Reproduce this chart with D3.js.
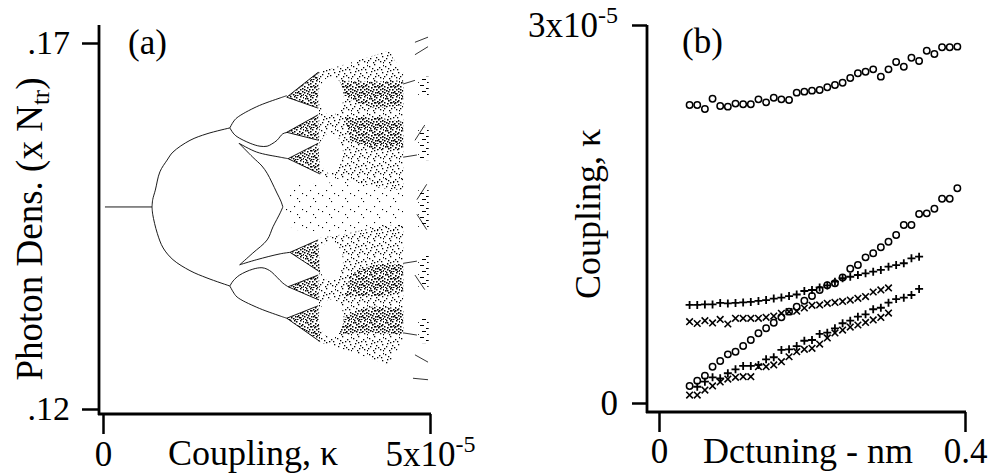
<!DOCTYPE html>
<html>
<head>
<meta charset="utf-8">
<script src="https://cdnjs.cloudflare.com/ajax/libs/d3/7.8.5/d3.min.js"></script>
<style>
  body { margin: 0; background: #fff; }
  svg text { font-family: "Liberation Serif", "Times New Roman", serif; fill: #000; }
</style>
</head>
<body>
<svg id="chart" width="993" height="474"></svg>
<script>
// ---------- panel (a): bifurcation diagram, kappa in units of 1e-5 ----------
var couplingTicksA = [0, 5];
var photonTicks = [0.12, 0.17];

// clean period-doubling branches [kappa, photon density]
var branchMain   = [[0.03,.1476],[0.75,.1476]];
var branchPfUp   = [[0.75,.1476],[0.76,.1486],[0.80,.1499],[0.87,.1524],[0.98,.1540],[1.07,.1551],[1.33,.1567],[1.59,.1576],[1.94,.1584]];
var branchPfDown = [[0.75,.1476],[0.76,.1466],[0.83,.1440],[0.92,.1420],[1.07,.1404],[1.33,.1389],[1.59,.1379],[1.94,.1368]];
var branchUpUp   = [[1.94,.1584],[1.99,.1592],[2.05,.1598],[2.35,.1613],[2.71,.1625],[2.81,.1628]];
var branchUpMid  = [[1.94,.1584],[1.99,.1577],[2.05,.1572],[2.25,.1563],[2.40,.1559],[2.51,.1559],[2.58,.1562],[2.66,.1567],[2.75,.1576],[2.83,.1578]];
var branchUpIn   = [[2.08,.1563],[2.35,.1551],[2.71,.1544],[2.83,.1542]];
var branchUpCusp = [[2.08,.1563],[2.29,.1544],[2.43,.1532],[2.51,.1522],[2.58,.1510],[2.66,.1495],[2.72,.1484],[2.75,.1476]];
var branchLoLo   = [[1.94,.1368],[1.99,.1360],[2.05,.1353],[2.35,.1339],[2.71,.1327],[2.81,.1324]];
var branchLoMid  = [[1.94,.1368],[1.99,.1375],[2.09,.1383],[2.29,.1391],[2.43,.1393],[2.51,.1391],[2.58,.1387],[2.66,.1380],[2.75,.1372],[2.83,.1367]];
var branchLoIn   = [[2.09,.1397],[2.35,.1404],[2.71,.1412],[2.86,.1414]];
var branchLoCusp = [[2.09,.1397],[2.29,.1413],[2.51,.1431],[2.60,.1449],[2.71,.1468],[2.75,.1476]];

// small chaotic fans after the 4th doubling (apex, upper right, lower right)
var fanTriangles = [
  [[2.81,.1626],[3.29,.1660],[3.29,.1611]],
  [[2.81,.1578],[3.29,.1602],[3.30,.1567]],
  [[2.83,.1542],[3.29,.1563],[3.32,.1521]],
  [[2.86,.1414],[3.29,.1431],[3.32,.1387]],
  [[2.83,.1367],[3.29,.1383],[3.30,.1349]],
  [[2.81,.1324],[3.29,.1341],[3.32,.1292]]
];

// chaotic bands
var chaosCenter = [[2.75,.1476],[2.89,.1506],[4.59,.1516],[4.59,.1436],[2.89,.1445]];
var chaosUpper  = [[3.29,.1660],[3.78,.1673],[4.39,.1690],[4.43,.1680],[4.59,.1660],[4.59,.1499],[4.24,.1502],[3.70,.1513],[3.32,.1518]];
var chaosLower  = [[3.32,.1434],[3.70,.1439],[4.24,.1450],[4.59,.1453],[4.59,.1292],[4.43,.1272],[4.39,.1259],[3.78,.1279],[3.29,.1292]];
var denseStreaks = [
  [[3.55,.1649],[4.08,.1647],[4.59,.1649],[4.59,.1615],[4.16,.1611],[3.78,.1622],[3.62,.1633]],
  [[3.70,.1598],[4.24,.1598],[4.59,.1592],[4.59,.1554],[4.16,.1554],[3.78,.1567]],
  [[3.78,.1384],[4.16,.1398],[4.59,.1398],[4.59,.1360],[4.24,.1354],[3.70,.1354]],
  [[3.62,.1319],[3.78,.1330],[4.16,.1341],[4.59,.1337],[4.59,.1302],[4.08,.1305],[3.55,.1302]]
];

// white windows inside the chaos
var bubbles = [
  [[3.30,.1628],[3.36,.1647],[3.49,.1654],[3.62,.1647],[3.68,.1628],[3.62,.1608],[3.49,.1602],[3.36,.1608]],
  [[3.29,.1550],[3.35,.1569],[3.47,.1577],[3.61,.1569],[3.67,.1550],[3.61,.1531],[3.47,.1522],[3.35,.1531]],
  [[3.29,.1402],[3.35,.1421],[3.47,.1430],[3.61,.1421],[3.67,.1402],[3.61,.1383],[3.47,.1375],[3.35,.1383]],
  [[3.30,.1324],[3.36,.1343],[3.49,.1350],[3.62,.1343],[3.68,.1324],[3.62,.1305],[3.49,.1298],[3.36,.1305]]
];

// sparse column at the right end
var edgeColumns = [[4.82,4.98,.1654,.1627],[4.82,4.98,.1584,.1540],[4.82,4.98,.1499,.1447],[4.82,4.98,.1410,.1367],[4.82,4.98,.1324,.1290]];
var edgeMarks = [
  [[4.77,.1701],[4.97,.1708]], [[4.77,.1684],[4.97,.1695]], [[4.59,.1644],[4.77,.1649]],
  [[4.77,.1567],[4.92,.1588]], [[4.59,.1544],[4.80,.1547]], [[4.80,.1486],[4.95,.1507]],
  [[4.80,.1466],[4.95,.1445]], [[4.59,.1399],[4.80,.1402]], [[4.77,.1383],[4.92,.1363]],
  [[4.59,.1304],[4.80,.1301]], [[4.77,.1274],[4.97,.1264]], [[4.74,.1242],[4.97,.1240]]
];

// ---------- panel (b): coupling (units of 1e-6) vs detuning (nm) ----------
var detuneCircle = [0.04,0.05,0.06,0.07,0.08,0.09,0.10,0.11,0.12,0.13,0.14,0.15,0.16,0.17,0.18,0.19,0.20,0.21,0.22,0.23,0.24,0.25,0.26,0.27,0.28,0.29,0.30,0.31,0.32,0.33,0.34,0.35,0.36,0.37,0.38,0.39];
var detunePlusHigh = [0.04,0.05,0.06,0.07,0.08,0.09,0.10,0.11,0.12,0.13,0.14,0.15,0.16,0.17,0.18,0.19,0.20,0.21,0.22,0.23,0.24,0.25,0.26,0.27,0.28,0.29,0.30,0.31,0.32,0.33,0.34];
var detunePlusLow = [0.05,0.06,0.07,0.08,0.09,0.10,0.11,0.12,0.13,0.14,0.15,0.16,0.17,0.18,0.19,0.20,0.21,0.22,0.23,0.24,0.25,0.26,0.27,0.28,0.29,0.30,0.31,0.32,0.33,0.34];
var detuneCross = [0.04,0.05,0.06,0.07,0.08,0.09,0.10,0.11,0.12,0.13,0.14,0.15,0.16,0.17,0.18,0.19,0.20,0.21,0.22,0.23,0.24,0.25,0.26,0.27,0.28,0.29,0.30];

var circleHigh = [23.65,23.65,23.33,24.15,23.57,23.52,23.76,23.71,23.71,24.10,23.86,24.23,24.10,24.05,24.63,24.71,24.79,24.84,25.06,25.24,25.42,25.79,26.17,26.29,26.48,25.90,26.48,27.06,26.69,27.40,27.14,27.96,27.70,28.23,28.23,28.28];
var circleLow  = [1.35,1.77,2.17,2.88,3.33,3.86,4.07,4.52,5.00,5.53,5.93,6.37,6.80,7.25,7.64,8.12,8.49,8.97,9.34,9.50,9.97,10.65,10.95,11.56,11.88,12.36,12.80,13.33,14.13,14.13,15.00,15.05,15.42,16.21,16.21,17.04];
var plusHigh   = [7.78,7.78,7.82,7.82,7.94,7.90,7.94,7.98,8.02,8.10,8.17,8.29,8.37,8.49,8.61,8.89,8.97,9.17,9.33,9.63,9.90,10.02,10.16,10.29,10.42,10.56,10.82,10.95,11.09,11.48,11.61];
var plusLow    = [1.29,1.69,2.04,1.96,2.36,2.67,2.94,2.94,3.02,3.47,3.63,4.21,4.26,4.52,4.94,5.00,5.48,5.58,5.93,6.33,6.53,6.85,7.04,7.44,7.56,7.96,8.25,8.36,8.57,9.05];
var crossHigh  = [6.45,6.31,6.53,6.35,6.63,6.27,6.72,6.72,6.72,6.72,6.80,6.90,7.12,7.25,7.29,7.54,7.75,7.78,7.91,7.98,8.06,8.17,8.31,8.45,8.81,8.97,9.13];
var crossLow   = [0.63,0.63,1.03,1.35,1.67,1.90,2.04,2.09,2.09,2.88,2.88,3.02,3.28,3.67,4.07,4.26,4.34,4.68,5.16,5.56,5.79,6.03,6.19,6.39,6.59,6.79,7.14];

var detuneTicks = [0, 0.4];
var couplingTicksB = [0, 30];

// ---------- drawing ----------
var svg = d3.select('#chart');
var FONT = 35;

var xA = d3.scaleLinear().domain([0, 5]).range([103, 430]);
var yA = d3.scaleLinear().domain([0.12, 0.17]).range([409, 43]);
var xB = d3.scaleLinear().domain([0, 0.4]).range([659, 965]);
var yB = d3.scaleLinear().domain([0, 30]).range([403, 25]);

// stipple patterns for the chaotic bands
var defs = svg.append('defs');
function makePattern(id, size, dots, dw, dh) {
  var p = defs.append('pattern').attr('id', id)
    .attr('patternUnits', 'userSpaceOnUse').attr('width', size).attr('height', size);
  p.selectAll('rect').data(dots).join('rect')
    .attr('x', function(d){ return d[0]; }).attr('y', function(d){ return d[1]; })
    .attr('width', dw).attr('height', dh).attr('fill', '#000');
}
var dotsSparse = [[2,3],[11,9],[6,14],[14,1],[9,6]];
var dotsMedium = [[1,2],[6,0],[11,3],[14,8],[3,7],[8,9],[12,13],[0,12],[5,14],[9,5],[15,1],[2,10],[7,12],[13,5],[4,4],[10,11],[15,14],[6,6]];
var dotsDense = dotsMedium.concat([[0,6],[6,3],[12,0],[3,13],[9,15],[14,11],[5,9],[10,7],[1,15],[8,1],[13,15],[7,6],[11,13],[2,0],[4,11],[12,9],[3,2],[9,12],[14,4],[0,9],[7,15],[11,6]]);
var dashes = [[0,1],[6,4],[2,7],[7,10],[1,13]];
makePattern('stSparse', 16, dotsSparse, 1.1, 1.1);
makePattern('stMedium', 16, dotsMedium, 1.3, 1.3);
makePattern('stDense', 16, dotsDense, 1.5, 1.5);
makePattern('stDash', 12, dashes, 4, 1);

var lineA = d3.line().x(function(d){ return xA(d[0]); }).y(function(d){ return yA(d[1]); });
var polyA = d3.line().x(function(d){ return xA(d[0]); }).y(function(d){ return yA(d[1]); }).curve(d3.curveLinearClosed);
var blobA = d3.line().x(function(d){ return xA(d[0]); }).y(function(d){ return yA(d[1]); }).curve(d3.curveCardinalClosed);

var gA = svg.append('g').attr('class', 'panel-a');

gA.append('path').attr('d', polyA(chaosCenter)).attr('fill', 'url(#stSparse)');
gA.selectAll('.chaos').data([chaosUpper, chaosLower]).join('path').attr('class', 'chaos')
  .attr('d', polyA).attr('fill', 'url(#stMedium)');
gA.selectAll('.streak').data(denseStreaks).join('path').attr('class', 'streak')
  .attr('d', polyA).attr('fill', 'url(#stDense)');
gA.selectAll('.bubble').data(bubbles).join('path').attr('class', 'bubble')
  .attr('d', blobA).attr('fill', '#fff');
gA.selectAll('.fan').data(fanTriangles).join('path').attr('class', 'fan')
  .attr('d', polyA).attr('fill', 'url(#stDense)');
// the two diverging edges of every fan
gA.selectAll('.fanedge').data(fanTriangles).join('path').attr('class', 'fanedge')
  .attr('d', function(t){ return lineA([t[1], t[0], t[2]]); })
  .attr('fill', 'none').attr('stroke', '#000').attr('stroke-width', 0.9);

gA.selectAll('.edgecol').data(edgeColumns).join('rect').attr('class', 'edgecol')
  .attr('x', function(d){ return xA(d[0]); }).attr('width', function(d){ return xA(d[1]) - xA(d[0]); })
  .attr('y', function(d){ return yA(d[2]); }).attr('height', function(d){ return yA(d[3]) - yA(d[2]); })
  .attr('fill', 'url(#stDash)');
gA.selectAll('.edgemark').data(edgeMarks).join('path').attr('class', 'edgemark')
  .attr('d', lineA).attr('fill', 'none').attr('stroke', '#000').attr('stroke-width', 0.8);

var branches = [branchMain, branchPfUp, branchPfDown, branchUpUp, branchUpMid, branchUpIn, branchUpCusp,
                branchLoLo, branchLoMid, branchLoIn, branchLoCusp];
var curveA = d3.line().x(function(d){ return xA(d[0]); }).y(function(d){ return yA(d[1]); }).curve(d3.curveCatmullRom);
gA.selectAll('.branch').data(branches).join('path').attr('class', 'branch')
  .attr('d', curveA).attr('fill', 'none')
  .attr('stroke', '#000').attr('stroke-width', 0.9);

// axes for (a)
function styleAxis(g, size) {
  g.select('.domain').remove();
  g.selectAll('.tick line').attr('stroke', '#000').attr('stroke-width', 2.5);
  g.attr('font-size', size).attr('font-family', '"Liberation Serif", serif');
}
function sciLabel(sel, base, exp) {
  sel.text(null);
  sel.append('tspan').text(base);
  sel.append('tspan').attr('dy', -14).attr('font-size', 24).text(exp);
}

var gAy = svg.append('g').attr('transform', 'translate(99,0)')
  .call(d3.axisLeft(yA).tickValues(photonTicks).tickSize(17).tickPadding(12)
    .tickFormat(function(d){ return d3.format('.2f')(d).slice(1); }));
styleAxis(gAy, 34);

var gAx = svg.append('g').attr('transform', 'translate(0,414)')
  .call(d3.axisBottom(xA).tickValues(couplingTicksA).tickSize(20).tickPadding(7)
    .tickFormat(function(d){ return String(d); }));
styleAxis(gAx, FONT);
gAx.selectAll('.tick text').each(function(d){
  if (d === 5) sciLabel(d3.select(this), '5x10', '-5');
});

svg.append('line').attr('x1', 99).attr('x2', 99).attr('y1', 25).attr('y2', 415)
  .attr('stroke', '#000').attr('stroke-width', 2.8);
svg.append('line').attr('x1', 98).attr('x2', 431).attr('y1', 414).attr('y2', 414)
  .attr('stroke', '#000').attr('stroke-width', 2.8);

svg.append('text').attr('x', 128).attr('y', 54).attr('font-size', FONT).text('(a)');
svg.append('text').attr('x', 253).attr('y', 465).attr('text-anchor', 'middle').attr('font-size', 36).text('Coupling, κ');
var ylabA = svg.append('text').attr('transform', 'translate(42,229) rotate(-90)')
  .attr('text-anchor', 'middle').attr('font-size', 37);
ylabA.append('tspan').text('Photon Dens. (x N');
ylabA.append('tspan').attr('font-size', 25).attr('dy', 7).text('tr');
ylabA.append('tspan').attr('dy', -7).text(')');

// ---------- panel (b) ----------
var seriesB = [
  {marker: 'circle', x: detuneCircle, y: circleHigh},
  {marker: 'circle', x: detuneCircle, y: circleLow},
  {marker: 'plus', x: detunePlusHigh, y: plusHigh},
  {marker: 'plus', x: detunePlusLow, y: plusLow},
  {marker: 'cross', x: detuneCross, y: crossHigh},
  {marker: 'cross', x: detuneCross, y: crossLow}
];
var markerPath = {
  plus: 'M-4,0H4M0,-4V4',
  cross: 'M-3.3,-3.3L3.3,3.3M-3.3,3.3L3.3,-3.3'
};

var gB = svg.append('g').attr('class', 'panel-b');
seriesB.forEach(function(s){
  var pts = s.x.map(function(x, i){ return [x, s.y[i]]; });
  if (s.marker === 'circle') {
    gB.append('g').selectAll('circle').data(pts).join('circle')
      .attr('cx', function(d){ return xB(d[0]); }).attr('cy', function(d){ return yB(d[1]); })
      .attr('r', 3.2).attr('fill', 'none').attr('stroke', '#000').attr('stroke-width', 1.5);
  } else {
    gB.append('g').selectAll('path').data(pts).join('path')
      .attr('transform', function(d){ return 'translate(' + xB(d[0]) + ',' + yB(d[1]) + ')'; })
      .attr('d', markerPath[s.marker]).attr('fill', 'none').attr('stroke', '#000')
      .attr('stroke-width', s.marker === 'plus' ? 1.8 : 1.6);
  }
});

var gBy = svg.append('g').attr('transform', 'translate(647,0)')
  .call(d3.axisLeft(yB).tickValues(couplingTicksB).tickSize(15).tickPadding(14));
styleAxis(gBy, FONT);
gBy.selectAll('.tick text').each(function(d){
  if (d === 30) sciLabel(d3.select(this), '3x10', '-5');
});

var gBx = svg.append('g').attr('transform', 'translate(0,412)')
  .call(d3.axisBottom(xB).tickValues(detuneTicks).tickSize(20).tickPadding(6)
    .tickFormat(function(d){ return d === 0 ? '0' : String(d); }));
styleAxis(gBx, FONT);

svg.append('line').attr('x1', 647).attr('x2', 647).attr('y1', 25).attr('y2', 413)
  .attr('stroke', '#000').attr('stroke-width', 2.8);
svg.append('line').attr('x1', 646).attr('x2', 966).attr('y1', 412).attr('y2', 412)
  .attr('stroke', '#000').attr('stroke-width', 2.8);

svg.append('text').attr('x', 682).attr('y', 53).attr('font-size', FONT).text('(b)');
svg.append('text').attr('x', 808).attr('y', 463).attr('text-anchor', 'middle').attr('font-size', 36).text('Dctuning - nm');
svg.append('text').attr('transform', 'translate(600,214) rotate(-90)')
  .attr('text-anchor', 'middle').attr('font-size', 36).text('Coupling, κ');
</script>
</body>
</html>
